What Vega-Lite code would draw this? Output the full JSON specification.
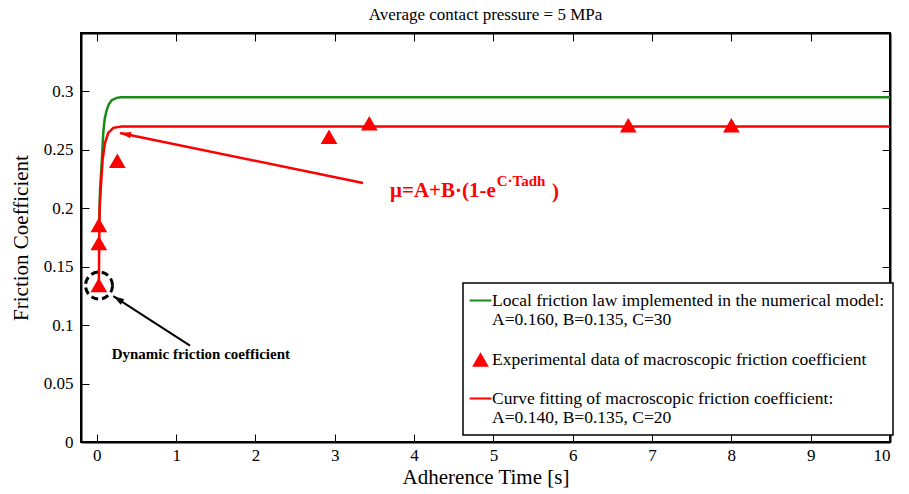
{
  "$schema": "https://vega.github.io/schema/vega-lite/v6.json",
  "width": 809,
  "height": 409,
  "autosize": {"type": "none"},
  "padding": {"left": 81, "top": 33, "right": 19, "bottom": 52},
  "background": "white",
  "title": {"text": "Average contact pressure = 5 MPa", "font": "Liberation Serif", "fontSize": 17, "fontWeight": "normal", "color": "black", "offset": 9, "anchor": "middle"},
  "resolve": {"axis": {"x": "independent", "y": "independent"}},
  "config": {
    "view": {"stroke": "black", "strokeWidth": 2},
    "axis": {"domainColor": "black", "domainWidth": 2, "tickColor": "black", "tickWidth": 1, "tickSize": -8, "labelFont": "Liberation Serif", "labelFontSize": 17, "labelColor": "black", "titleFont": "Liberation Serif", "titleFontSize": 21, "titleFontWeight": "normal", "titleColor": "black", "grid": false},
    "legend": {"strokeWidth": 1.5}
  },
  "datasets": {
    "curves": [
      {"series": "green", "t": 0.03, "v": 0.19},
      {"series": "green", "t": 0.04, "v": 0.216},
      {"series": "green", "t": 0.061, "v": 0.2386},
      {"series": "green", "t": 0.081, "v": 0.265},
      {"series": "green", "t": 0.1, "v": 0.277},
      {"series": "green", "t": 0.124, "v": 0.284},
      {"series": "green", "t": 0.15, "v": 0.289},
      {"series": "green", "t": 0.187, "v": 0.2925},
      {"series": "green", "t": 0.25, "v": 0.2945},
      {"series": "green", "t": 0.3, "v": 0.295},
      {"series": "green", "t": 10, "v": 0.295},
      {"series": "red", "t": 0.025, "v": 0.135},
      {"series": "red", "t": 0.03, "v": 0.17},
      {"series": "red", "t": 0.035, "v": 0.2},
      {"series": "red", "t": 0.048, "v": 0.216},
      {"series": "red", "t": 0.073, "v": 0.242},
      {"series": "red", "t": 0.103, "v": 0.256},
      {"series": "red", "t": 0.144, "v": 0.2645},
      {"series": "red", "t": 0.207, "v": 0.2688},
      {"series": "red", "t": 0.31, "v": 0.27},
      {"series": "red", "t": 10, "v": 0.27}
    ],
    "experiments": [
      {"t": 0.025, "v": 0.1344, "series": "Experimental data of  macroscopic friction coefficient"},
      {"t": 0.025, "v": 0.1703, "series": "Experimental data of  macroscopic friction coefficient"},
      {"t": 0.025, "v": 0.1857, "series": "Experimental data of  macroscopic friction coefficient"},
      {"t": 0.258, "v": 0.2407, "series": "Experimental data of  macroscopic friction coefficient"},
      {"t": 2.927, "v": 0.2613, "series": "Experimental data of  macroscopic friction coefficient"},
      {"t": 3.435, "v": 0.2727, "series": "Experimental data of  macroscopic friction coefficient"},
      {"t": 6.7, "v": 0.271, "series": "Experimental data of  macroscopic friction coefficient"},
      {"t": 8.0, "v": 0.271, "series": "Experimental data of  macroscopic friction coefficient"}
    ],
    "arrows": [
      {"name": "fit", "t": 3.356, "v": 0.2216, "t2": 0.292, "v2": 0.2645},
      {"name": "dyn", "t": 1.174, "v": 0.0824, "t2": 0.207, "v2": 0.1249}
    ],
    "circle": [{"t": 0.027, "v": 0.1339}],
    "notes": [
      {"name": "dyn", "t": 0.187, "v": 0.0753, "text": "Dynamic friction coefficient"},
      {"name": "main", "t": 3.696, "v": 0.2144, "text": "μ=A+B·(1-e"},
      {"name": "sup", "t": 5.041, "v": 0.2234, "text": "C·Tadh"},
      {"name": "close", "t": 5.739, "v": 0.2143, "text": ")"}
    ]
  },
  "layer": [
    {
      "data": {"name": "curves"},
      "transform": [{"filter": "datum.series === 'green'"}],
      "mark": {"type": "line", "color": "#1a8a1a", "strokeWidth": 2.5},
      "encoding": {
        "x": {"field": "t", "type": "quantitative", "scale": {"domain": [-0.2, 10], "nice": false, "zero": false}, "axis": {"orient": "bottom", "title": "Adherence Time [s]", "values": [0, 1, 2, 3, 4, 5, 6, 7, 8, 9, 10], "format": "d", "labelPadding": 13, "titlePadding": 3}},
        "y": {"field": "v", "type": "quantitative", "scale": {"domain": [0, 0.35], "nice": false}, "axis": {"orient": "left", "title": "Friction Coefficient", "values": [0, 0.05, 0.1, 0.15, 0.2, 0.25, 0.3], "format": "~g", "labelPadding": 16, "titlePadding": 12}}
      }
    },
    {
      "data": {"name": "curves"},
      "transform": [{"filter": "datum.series === 'red'"}],
      "mark": {"type": "line", "color": "#ff0000", "strokeWidth": 2.5},
      "encoding": {
        "x": {"field": "t", "type": "quantitative", "axis": {"orient": "top", "labels": false, "title": null, "values": [0, 1, 2, 3, 4, 5, 6, 7, 8, 9, 10]}},
        "y": {"field": "v", "type": "quantitative", "axis": {"orient": "right", "labels": false, "title": null, "values": [0, 0.05, 0.1, 0.15, 0.2, 0.25, 0.3]}}
      }
    },
    {
      "data": {"name": "arrows"},
      "transform": [{"filter": "datum.name === 'fit'"}],
      "mark": {"type": "rule", "color": "#ff0000", "strokeWidth": 2.5},
      "encoding": {
        "x": {"field": "t", "type": "quantitative", "axis": null},
        "y": {"field": "v", "type": "quantitative", "axis": null},
        "x2": {"field": "t2"},
        "y2": {"field": "v2"}
      }
    },
    {
      "data": {"name": "arrows"},
      "transform": [{"filter": "datum.name === 'fit'"}],
      "mark": {"type": "point", "filled": true, "opacity": 1, "color": "#ff0000", "size": 100, "shape": "M0,0L-0.65,2.2L0.65,2.2Z", "angle": 281.6},
      "encoding": {
        "x": {"field": "t2", "type": "quantitative", "axis": null},
        "y": {"field": "v2", "type": "quantitative", "axis": null}
      }
    },
    {
      "data": {"name": "arrows"},
      "transform": [{"filter": "datum.name === 'dyn'"}],
      "mark": {"type": "rule", "color": "black", "strokeWidth": 2},
      "encoding": {
        "x": {"field": "t", "type": "quantitative", "axis": null},
        "y": {"field": "v", "type": "quantitative", "axis": null},
        "x2": {"field": "t2"},
        "y2": {"field": "v2"}
      }
    },
    {
      "data": {"name": "arrows"},
      "transform": [{"filter": "datum.name === 'dyn'"}],
      "mark": {"type": "point", "filled": true, "opacity": 1, "color": "black", "size": 100, "shape": "M0,0L-0.65,2.2L0.65,2.2Z", "angle": 303},
      "encoding": {
        "x": {"field": "t2", "type": "quantitative", "axis": null},
        "y": {"field": "v2", "type": "quantitative", "axis": null}
      }
    },
    {
      "data": {"name": "experiments"},
      "mark": {"type": "point", "filled": true, "opacity": 1, "size": 280, "strokeWidth": 0},
      "encoding": {
        "x": {"field": "t", "type": "quantitative", "axis": null},
        "y": {"field": "v", "type": "quantitative", "axis": null},
        "color": {"field": "series", "type": "nominal", "scale": {"domain": ["Local friction law implemented in the numerical model:|A=0.160, B=0.135, C=30", "Experimental data of  macroscopic friction coefficient", "Curve fitting of macroscopic friction coefficient:|A=0.140, B=0.135, C=20"], "range": ["#1a8a1a", "#ff0000", "#ff0000"]},
          "legend": {"title": null, "orient": "none", "legendX": 382, "legendY": 250, "padding": 8, "strokeColor": "black", "fillColor": "white", "labelFont": "Liberation Serif", "labelFontSize": 17.5, "labelColor": "black", "labelLimit": 600, "labelLineHeight": 19, "rowPadding": 21, "labelOffset": 2, "symbolSize": 280, "labelExpr": "split(datum.label, '|')"}},
        "shape": {"field": "series", "type": "nominal", "scale": {"domain": ["Local friction law implemented in the numerical model:|A=0.160, B=0.135, C=30", "Experimental data of  macroscopic friction coefficient", "Curve fitting of macroscopic friction coefficient:|A=0.140, B=0.135, C=20"], "range": ["M-1.3,-0.12H1.3V0.12H-1.3Z", "triangle-up", "M-1.3,-0.12H1.3V0.12H-1.3Z"]},
          "legend": {"title": null, "orient": "none", "legendX": 382, "legendY": 250, "padding": 8, "strokeColor": "black", "fillColor": "white", "labelFont": "Liberation Serif", "labelFontSize": 17.5, "labelColor": "black", "labelLimit": 600, "labelLineHeight": 19, "rowPadding": 21, "labelOffset": 2, "symbolSize": 280, "labelExpr": "split(datum.label, '|')"}}
      }
    },
    {
      "data": {"name": "circle"},
      "mark": {"type": "point", "filled": false, "opacity": 1, "color": "black", "size": 729, "shape": "circle", "strokeWidth": 3, "strokeDash": [7, 4]},
      "encoding": {
        "x": {"field": "t", "type": "quantitative", "axis": null},
        "y": {"field": "v", "type": "quantitative", "axis": null}
      }
    },
    {
      "data": {"name": "notes"},
      "transform": [{"filter": "datum.name === 'dyn'"}],
      "mark": {"type": "text", "align": "left", "baseline": "middle", "font": "Liberation Serif", "fontSize": 15, "fontWeight": "bold", "color": "black"},
      "encoding": {
        "x": {"field": "t", "type": "quantitative", "axis": null},
        "y": {"field": "v", "type": "quantitative", "axis": null},
        "text": {"field": "text"}
      }
    },
    {
      "data": {"name": "notes"},
      "transform": [{"filter": "datum.name === 'main' || datum.name === 'close'"}],
      "mark": {"type": "text", "align": "left", "baseline": "middle", "font": "Liberation Serif", "fontSize": 21, "fontWeight": "bold", "color": "#ff0000"},
      "encoding": {
        "x": {"field": "t", "type": "quantitative", "axis": null},
        "y": {"field": "v", "type": "quantitative", "axis": null},
        "text": {"field": "text"}
      }
    },
    {
      "data": {"name": "notes"},
      "transform": [{"filter": "datum.name === 'sup'"}],
      "mark": {"type": "text", "align": "left", "baseline": "middle", "font": "Liberation Serif", "fontSize": 15, "fontWeight": "bold", "color": "#ff0000"},
      "encoding": {
        "x": {"field": "t", "type": "quantitative", "axis": null},
        "y": {"field": "v", "type": "quantitative", "axis": null},
        "text": {"field": "text"}
      }
    }
  ]
}
